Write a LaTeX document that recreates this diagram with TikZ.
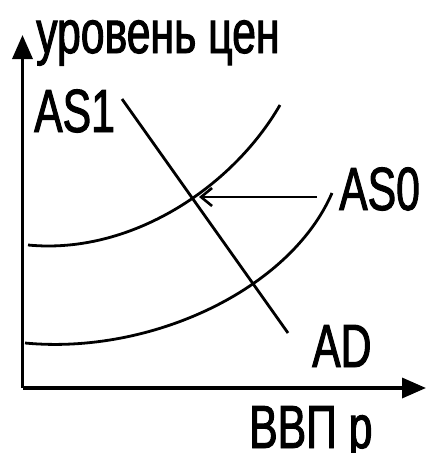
\documentclass[tikz,border=0pt]{standalone}
\usepackage{fontspec}
\setmainfont[FakeStretch=0.7,FakeBold=1.6]{Liberation Sans}
\usetikzlibrary{arrows.meta}
\begin{document}
\begin{tikzpicture}[x=1pt,y=-1pt,
  lbl/.style={inner sep=0pt,anchor=base west,font=\fontsize{61}{61}\selectfont},
  axis/.style={line width=3.5pt,-{Triangle[length=24pt,width=20pt]}},
  curve/.style={line width=2.8pt},
  pointer/.style={line width=2.8pt,-{Straight Barb[length=11pt,width=18pt,line width=2.6pt]}}]
\useasboundingbox (0,0) rectangle (426,453);
% axes
\coordinate (O) at (22.5,388);
\coordinate (Ytip) at (22.5,35);
\coordinate (Xtip) at (426,388);
\draw[axis] (O) -- (Ytip);
\draw[axis] (O) -- (Xtip);
% labels
\node[lbl] (ylab) at (36,53) {уровень цен};
\node[lbl] (xlab) at (249,448) {ВВП р};
\node[lbl] (as1) at (34,132) {AS1};
\node[lbl] (as0) at (339,210) {AS0};
\node[lbl] (ad) at (312,367) {AD};
% curves
\coordinate (u1) at (28,245);
\coordinate (u2) at (280,105);
\draw[curve] (u1) .. controls (130,255) and (232,188) .. (u2);
\coordinate (l1) at (25,343);
\coordinate (l2) at (332,193);
\draw[curve] (l1) .. controls (150,355) and (290,290) .. (l2);
% AD line
\coordinate (d1) at (122,99);
\coordinate (d2) at (288,333);
\draw[curve] (d1) -- (d2);
% pointer arrow
\coordinate (p1) at (317,197);
\coordinate (p2) at (199,197);
\draw[pointer] (p1) -- (p2);
\end{tikzpicture}
\end{document}
